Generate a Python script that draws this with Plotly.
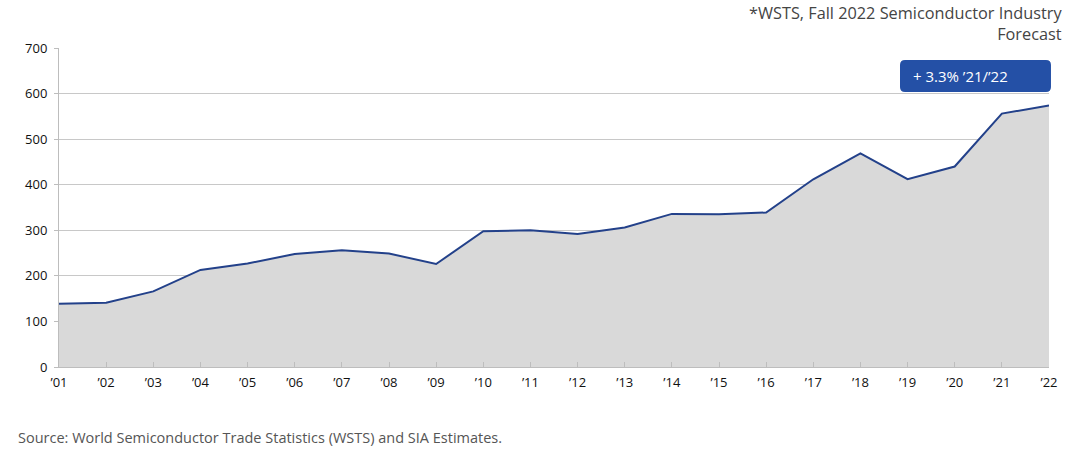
import plotly.graph_objects as go

# WSTS worldwide semiconductor sales, billions USD
years = list(range(2001, 2023))
year_labels = ["\u2019%02d" % (y % 100) for y in years]
sales = [139, 141, 166, 213, 227, 248, 256, 249, 226, 298, 300,
         292, 306, 336, 335, 339, 412, 469, 412, 440, 556, 574]
y_ticks = [0, 100, 200, 300, 400, 500, 600, 700]
note_lines = ["*WSTS, Fall 2022 Semiconductor Industry", "Forecast"]

FONT = "Open Sans"
W, H = 1080, 455
M = dict(l=59, r=31, t=48, b=88)


def rounded_box(x0, y0, x1, y1, r_px):
    """Rounded rectangle path in paper coords; radius given in pixels."""
    pw = W - M["l"] - M["r"]
    ph = H - M["t"] - M["b"]
    rx = r_px / pw
    ry = r_px / ph
    return (f"M {x0 + rx} {y0} L {x1 - rx} {y0} Q {x1} {y0} {x1} {y0 + ry} "
            f"L {x1} {y1 - ry} Q {x1} {y1} {x1 - rx} {y1} "
            f"L {x0 + rx} {y1} Q {x0} {y1} {x0} {y1 - ry} "
            f"L {x0} {y0 + ry} Q {x0} {y0} {x0 + rx} {y0} Z")


fig = go.Figure()
fig.add_trace(go.Scatter(
    x=years, y=sales, mode="lines",
    line=dict(color="#23418a", width=2),
    fill="tozeroy", fillcolor="#d9d9d9",
    hoverinfo="x+y", showlegend=False))

fig.update_layout(
    width=W, height=H, margin=M,
    paper_bgcolor="white", plot_bgcolor="white",
    font=dict(family=FONT, size=13, color="#111"),
    xaxis=dict(range=[2001, 2022], tickvals=years, ticktext=year_labels,
               showgrid=False, showline=True, linecolor="#bdbdbd", linewidth=1,
               ticks="inside", ticklen=5, tickcolor="#bdbdbd",
               ticklabelstandoff=3,
               tickfont=dict(size=13, color="#111"), zeroline=False),
    yaxis=dict(range=[0, 700], tickvals=y_ticks,
               showgrid=True, gridcolor="#c8c8c8", gridwidth=1,
               showline=True, linecolor="#bdbdbd", linewidth=1,
               ticks="outside", ticklen=4, tickcolor="#bdbdbd",
               ticklabelstandoff=4,
               tickfont=dict(size=13, color="#111"), zeroline=False),
)

# highlighted growth callout
fig.add_shape(type="path", xref="paper", yref="paper",
              path=rounded_box(0.8495, 0.862, 1.002, 0.962, 5),
              fillcolor="#2450a6", line=dict(width=0), layer="above")
fig.add_annotation(text="+ 3.3% \u201921/\u201922", xref="paper", yref="paper",
                   x=0.861, y=0.912, xanchor="left", yanchor="middle",
                   showarrow=False, font=dict(size=15, color="white", family=FONT))

# top-right note
fig.add_annotation(text="<br>".join(note_lines), xref="paper", yref="paper",
                   x=1.0145, y=1.148, xanchor="right", yanchor="top",
                   align="right", showarrow=False, borderpad=0,
                   font=dict(size=16.3, color="#444", family=FONT))

fig.add_annotation(text="Source: World Semiconductor Trade Statistics (WSTS) and SIA Estimates.",
                   xref="paper", yref="paper", x=-0.043, y=-0.22,
                   xanchor="left", yanchor="middle", showarrow=False,
                   font=dict(size=14.5, color="#555", family=FONT))

# drop the browser's default page margin so the figure sits at the window corner
fig.write_html("out.html", config={"displayModeBar": False},
               post_script="document.body.style.margin='0';")
